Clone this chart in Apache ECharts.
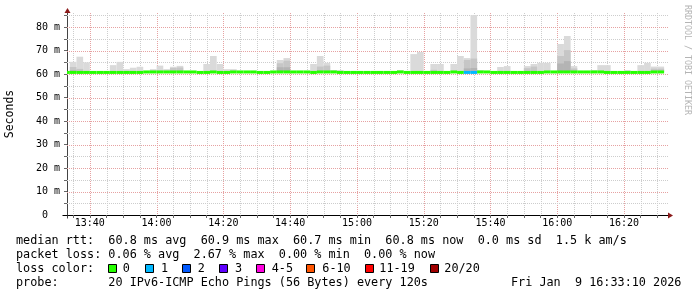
<!DOCTYPE html>
<html><head><meta charset="utf-8">
<script src="https://cdn.jsdelivr.net/npm/echarts@6/dist/echarts.min.js"></script>
<style>html,body{margin:0;padding:0;background:#fff}#c{width:697px;height:297px}</style>
</head><body><div id="c"></div>
<script>
// ---- data ----
const axisStart = '13:33:10';
const axisEnd = '16:33:10';
const firstStep = '13:32';
const stepMinutes = 2;

// median RTT per 120 s step (ms)
const median = [
  60.7,60.7,60.7,60.7,60.7,60.7,60.7,60.7,60.7,60.7,
  60.7,60.7,60.9,60.9,60.9,60.9,60.9,60.9,60.9,60.9,
  60.7,60.7,60.9,60.7,60.7,60.9,60.9,60.9,60.9,60.7,
  60.7,60.9,60.9,60.9,60.9,60.9,60.9,60.7,60.9,60.9,
  60.9,60.7,60.7,60.7,60.7,60.7,60.7,60.7,60.7,60.7,
  60.9,60.7,60.7,60.7,60.7,60.7,60.7,60.7,60.9,60.7,
  60.7,60.7,60.9,60.9,60.7,60.7,60.7,60.7,60.7,60.7,
  60.7,60.7,60.9,60.9,60.9,60.9,60.9,60.9,60.9,60.9,
  60.9,60.7,60.7,60.7,60.7,60.7,60.7,60.7,60.9,60.9
];
// smoke: highest ping per step (ms), null = hidden under the median line
const smokeMax = [
  null,65.2,67.4,65.0,null,null,null,63.8,65.2,62.1,
  62.7,63.1,null,62.1,63.6,62.1,63.1,63.5,null,null,
  null,64.3,67.7,64.3,62.1,62.1,null,null,null,null,
  null,null,66.0,66.8,null,null,null,64.3,67.7,64.8,
  61.7,61.7,null,null,null,null,null,null,null,null,
  61.7,null,68.5,69.4,null,64.3,64.3,null,64.3,67.7,
  66.8,85.1,61.7,null,null,63.0,63.4,null,null,63.4,
  64.3,64.8,64.8,null,72.8,76.2,63.4,null,null,61.7,
  63.8,63.8,null,null,61.7,null,63.8,64.8,63.2,63.2
];
// smoke: inner (denser) band top per step
const smokeMid = [
  null,63.0,62.2,61.3,null,null,null,null,null,null,
  null,null,null,null,null,null,62.6,62.8,null,null,
  null,null,null,null,null,null,null,null,null,null,
  null,null,64.6,65.7,null,null,null,null,63.2,63.6,
  null,null,null,null,null,null,null,null,null,null,
  null,null,null,null,null,61.8,null,null,null,null,
  66.0,66.6,null,null,null,null,null,null,null,62.5,
  63.2,null,null,null,67.7,70.2,62.4,null,null,null,
  null,null,null,null,null,null,null,null,62.3,62.3
];
// smoke: densest band top per step
const smokeDark = [
  null,61.6,null,null,null,null,null,null,null,null,
  null,null,null,null,null,null,null,null,null,null,
  null,null,null,null,null,null,null,null,null,null,
  null,null,62.9,62.9,null,null,null,null,null,null,
  null,null,null,null,null,null,null,null,null,null,
  null,null,null,null,null,null,null,null,null,null,
  62.4,62.6,null,null,null,null,null,null,null,null,
  null,null,null,null,64.5,65.5,null,null,null,null,
  null,null,null,null,null,null,null,null,null,null
];
// lost pings (of 20) per step
const lossCount = [
  0,0,0,0,0,0,0,0,0,0, 0,0,0,0,0,0,0,0,0,0,
  0,0,0,0,0,0,0,0,0,0, 0,0,0,0,0,0,0,0,0,0,
  0,0,0,0,0,0,0,0,0,0, 0,0,0,0,0,0,0,0,0,0,
  1,1,0,0,0,0,0,0,0,0, 0,0,0,0,0,0,0,0,0,0,
  0,0,0,0,0,0,0,0,0,0
];
const yMax = 86;
const yLabelValues = [0,10,20,30,40,50,60,70,80];
const xLabelTimes = ['13:40','14:00','14:20','14:40','15:00','15:20','15:40','16:00','16:20'];
const lossLabels = ['0','1','2','3','4-5','6-10','11-19','20/20'];
const lossColors = ['#26ff00','#00b8ff','#0059ff','#5e00ff','#ff00e0','#ff5500','#ff0000','#a00000'];
const statsLines = [
  'median rtt:  60.8 ms avg  60.9 ms max  60.7 ms min  60.8 ms now  0.0 ms sd  1.5 k am/s',
  'packet loss: 0.06 % avg  2.67 % max  0.00 % min  0.00 % now',
  'loss color:',
  'probe:       20 IPv6-ICMP Echo Pings (56 Bytes) every 120s'
];
const dateText = 'Fri Jan  9 16:33:10 2026';
const yAxisTitle = 'Seconds';
const watermark = 'RRDTOOL / TOBI OETIKER';

// ---- helpers ----
function toMin(s){ const p = s.split(':').map(Number); return p[0]*60 + p[1] + (p[2]||0)/60; }
function fmt(m){ const h = Math.floor(m/60); const mm = Math.round(m - h*60); return h + ':' + String(mm).padStart(2,'0'); }
function lossBin(n){ if(n<=0) return 0; if(n<=3) return n; if(n<=5) return 4; if(n<=10) return 5; if(n<=19) return 6; return 7; }

const xMin = toMin(axisStart), xMax = toMin(axisEnd);
const t0 = toMin(firstStep);
const stepStarts = median.map((_, i) => t0 + i*stepMinutes);

function band(arr){
  const out = [];
  arr.forEach((v,i) => { if(v != null) out.push([stepStarts[i], stepStarts[i]+stepMinutes, median[i], v]); });
  return out;
}
const medianData = median.map((v,i) => [stepStarts[i], stepStarts[i]+stepMinutes, v, lossCount[i]]);

// grid line positions
const xMinor = []; for(let m = Math.ceil(xMin/5)*5; m <= xMax; m += 5) xMinor.push(m);
const yMinor = []; for(let v = 5; v <= yMax; v += 5) yMinor.push(v);
const gridData = [];
xMinor.forEach(m => gridData.push(['x', m, m % 20 === 0 ? 1 : 0]));
yMinor.forEach(v => gridData.push(['y', v, v % 10 === 0 ? 1 : 0]));

function rectRender(color){
  return function(params, api){
    const a = api.coord([api.value(0), api.value(3)]);
    const b = api.coord([api.value(1), api.value(2)]);
    const cs = params.coordSys;
    const shape = echarts.graphic.clipRectByRect(
      {x: a[0], y: a[1], width: b[0]-a[0], height: b[1]-a[1]},
      {x: cs.x, y: cs.y, width: cs.width, height: cs.height});
    return shape ? {type:'rect', shape: shape, style:{fill: color}} : null;
  };
}

const MONO = 'DejaVu Sans Mono';
const chart = echarts.init(document.getElementById('c'), null, {renderer:'canvas'});
chart.setOption({
  animation: false,
  backgroundColor: '#ffffff',
  grid: {left: 67, right: 29, top: 13, bottom: 82, containLabel: false},
  xAxis: {
    type: 'value', min: xMin, max: xMax,
    axisLine: {show: true, lineStyle: {color: '#000', width: 1}},
    axisTick: {show: true, length: 3, customValues: xMinor, lineStyle: {color: '#666'}},
    axisLabel: {customValues: xLabelTimes.map(toMin), formatter: v => fmt(v), fontFamily: MONO, fontSize: 10, color: '#000', margin: 3},
    splitLine: {show: false}
  },
  yAxis: {
    type: 'value', min: 0, max: yMax,
    axisLine: {show: true, lineStyle: {color: '#444', width: 1}},
    axisTick: {show: true, length: 3, customValues: yMinor.concat([0]), lineStyle: {color: '#666'}},
    axisLabel: {customValues: yLabelValues, formatter: v => v === 0 ? '0  ' : v + ' m', fontFamily: MONO, fontSize: 10, color: '#000', margin: 7},
    splitLine: {show: false}
  },
  series: [
    {
      type: 'custom', name: 'grid', z: 1, silent: true, data: gridData,
      renderItem: function(params, api){
        const cs = params.coordSys;
        const kind = gridData[params.dataIndex][0];
        const major = api.value(2) === 1;
        const color = major ? '#e6a2a2' : '#cdcdcd';
        if(kind === 'x'){
          const x = Math.round(api.coord([api.value(1), 0])[0]) + 0.5;
          return {type:'line', shape:{x1:x, y1:cs.y, x2:x, y2:cs.y+cs.height}, style:{stroke:color, lineWidth:1, lineDash:[1,1]}};
        } else {
          const y = Math.round(api.coord([xMin, api.value(1)])[1]) + 0.5;
          return {type:'line', shape:{x1:cs.x, y1:y, x2:cs.x+cs.width, y2:y}, style:{stroke:color, lineWidth:1, lineDash:[1,1]}};
        }
      }
    },
    {type:'custom', name:'smoke', z:2, silent:true, data: band(smokeMax), encode:{x:[0,1], y:[2,3]}, renderItem: rectRender('#dadada')},
    {type:'custom', name:'smokeMid', z:3, silent:true, data: band(smokeMid), encode:{x:[0,1], y:[2,3]}, renderItem: rectRender('#c6c6c6')},
    {type:'custom', name:'smokeDark', z:4, silent:true, data: band(smokeDark), encode:{x:[0,1], y:[2,3]}, renderItem: rectRender('#b4b4b4')},
    {
      type:'custom', name:'median', z:5, silent:true, data: medianData, encode:{x:[0,1], y:2},
      renderItem: function(params, api){
        const a = api.coord([api.value(0), api.value(2)]);
        const b = api.coord([api.value(1), api.value(2)]);
        const cs = params.coordSys;
        const shape = echarts.graphic.clipRectByRect(
          {x: a[0], y: a[1]-1.5, width: b[0]-a[0], height: 3},
          {x: cs.x, y: cs.y, width: cs.width, height: cs.height});
        return shape ? {type:'rect', shape: shape, style:{fill: lossColors[lossBin(api.value(3))]}} : null;
      }
    }
  ]
});

// ---- decorations: arrows, texts, legend ----
const pTL = chart.convertToPixel({gridIndex:0}, [xMin, yMax]);
const pBR = chart.convertToPixel({gridIndex:0}, [xMax, 0]);
const ax = Math.round(pTL[0]) + 0.5, ay = Math.round(pBR[1]) + 0.5;
const ARROW = '#8b1a1a';
const g = [];
g.push({type:'polygon', shape:{points:[[ax, pTL[1]-5], [ax-3, pTL[1]], [ax+3, pTL[1]]]}, style:{fill:ARROW}, z:10});
g.push({type:'polygon', shape:{points:[[pBR[0]+5, ay], [pBR[0], ay-3], [pBR[0], ay+3]]}, style:{fill:ARROW}, z:10});
g.push({type:'line', shape:{x1:ax-5, y1:ay, x2:ax, y2:ay}, style:{stroke:'#000', lineWidth:1}, z:10});
g.push({type:'line', shape:{x1:ax, y1:ay, x2:ax, y2:ay+3}, style:{stroke:'#444', lineWidth:1}, z:10});
g.push({type:'text', x:10, y:114, rotation:Math.PI/2, style:{text:yAxisTitle, font:'11.5px "' + MONO + '"', fill:'#000', align:'center', verticalAlign:'middle'}, z:10});
g.push({type:'text', x:687, y:60, rotation:-Math.PI/2, style:{text:watermark, font:'8.3px "' + MONO + '"', fill:'#b4b4b4', align:'center', verticalAlign:'middle'}, z:10});
const lineY = [241, 255, 269, 283];
statsLines.forEach((s, i) => {
  g.push({type:'text', x:16, y:lineY[i], style:{text:s, font:'11.8px "' + MONO + '"', fill:'#000', align:'left', verticalAlign:'middle'}, z:10});
});
g.push({type:'text', x:511, y:lineY[3], style:{text:dateText, font:'11.8px "' + MONO + '"', fill:'#000', align:'left', verticalAlign:'middle'}, z:10});
const boxX = [108.5, 145.5, 182.5, 219.5, 256.5, 306.5, 365.5, 430.5];
const labX = [122.7, 161, 197.7, 235, 271.7, 322.3, 379.3, 444.3];
lossLabels.forEach((l, i) => {
  g.push({type:'rect', shape:{x:boxX[i], y:264.5, width:8, height:8}, style:{fill:lossColors[i], stroke:'#000', lineWidth:1}, z:10});
  g.push({type:'text', x:labX[i], y:lineY[2], style:{text:l, font:'11.8px "' + MONO + '"', fill:'#000', align:'left', verticalAlign:'middle'}, z:10});
});
chart.setOption({graphic: g});
</script>
</body></html>
